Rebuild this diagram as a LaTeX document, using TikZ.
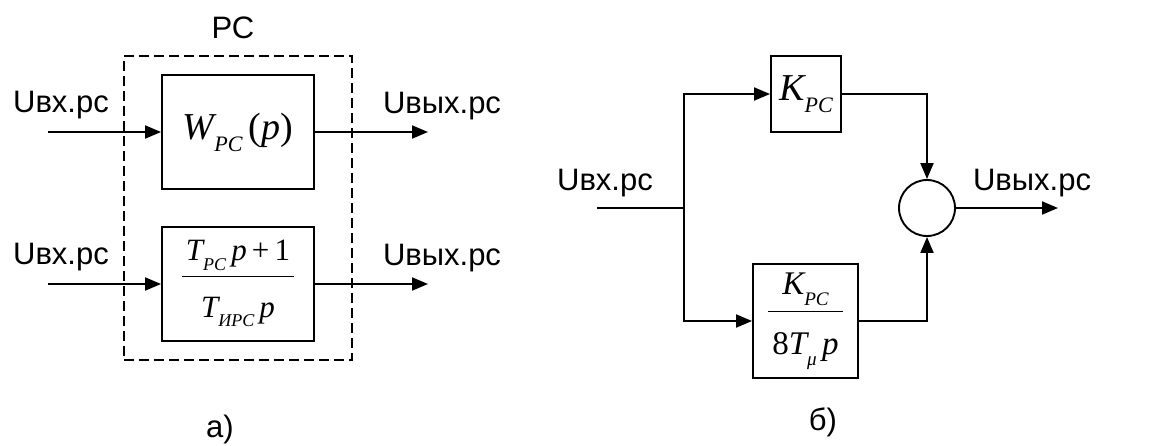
\documentclass[tikz,border=0pt]{standalone}
\usepackage{fontspec}
\setmainfont{Liberation Serif}
\setsansfont{Liberation Sans}
\usetikzlibrary{arrows.meta}
\newcommand\sbs[1]{\raisebox{-0.32em}{\scalebox{0.58}{\itshape #1}}}
\newcommand\mi[1]{{\itshape #1}}
\setlength{\arrayrulewidth}{1.3pt}
\newcommand\frc[2]{{\renewcommand\arraystretch{0}\begin{tabular}{@{\hspace{0.12em}}c@{\hspace{0.12em}}}\rule[-0.5em]{0pt}{0.8em}#1\\\hline\rule{0pt}{1.28em}#2\rule[-0.35em]{0pt}{0pt}\end{tabular}}}
\begin{document}
\begin{tikzpicture}[x=1pt,y=-1pt,
  lbl/.style={font=\sffamily\fontsize{31}{34}\selectfont, inner sep=0},
  blk/.style={draw, line width=1.9pt, inner sep=0},
  ln/.style={line width=1.9pt},
  arr/.style={ln, -{Triangle[length=16pt,width=13pt]}},
]
\useasboundingbox (0,0) rectangle (1151,445);

% ---------- part a ----------
\node[draw, line width=1.9pt, dash pattern=on 10pt off 5pt, minimum width=228pt, minimum height=304pt, inner sep=0] (rc) at (238,208) {};
\node[lbl] (rcl) at (233,28) {РС};
\node[blk, minimum width=152pt, minimum height=114pt] (tb) at (238,132)
  {\fontsize{38}{42}\selectfont \mi{W}\sbs{РС}\,(\mi{p})};
\node[blk, minimum width=152pt, minimum height=114pt] (bb) at (238,284)
  {\fontsize{31}{34}\selectfont \frc{\mi{T}\sbs{РС}\,\mi{p}\,+\,1}{\mi{T}\sbs{ИРС}\,\mi{p}}};
\coordinate (in1) at (48,132);
\coordinate (in2) at (48,284);
\coordinate (out1) at (428,132);
\coordinate (out2) at (428,284);
\draw[arr] (in1) -- (tb.west);
\draw[arr] (in2) -- (bb.west);
\draw[arr] (tb.east) -- (out1);
\draw[arr] (bb.east) -- (out2);
\node[lbl] (li1) at (61,105) {Uвх.рс};
\node[lbl] (li2) at (61,257) {Uвх.рс};
\node[lbl] (lo1) at (442,106) {Uвых.рс};
\node[lbl] (lo2) at (442,258) {Uвых.рс};
\node[lbl] (capa) at (220,429) {а)};

% ---------- part b ----------
\node[blk, minimum width=70pt, minimum height=76pt] (kb) at (806,94)
  {\fontsize{38}{42}\selectfont \mi{K}\sbs{РС}};
\node[blk, minimum width=105pt, minimum height=114pt] (fb) at (805.5,321)
  {\fontsize{33}{36}\selectfont \frc{\mi{K}\sbs{РС}}{8\mi{T}\sbs{μ}\,\mi{p}}};
\node[draw, line width=1.9pt, circle, minimum size=56pt, inner sep=0] (sum) at (927,208) {};
\coordinate (inb) at (597,208);
\coordinate (br) at (684,208);
\coordinate (outb) at (1058,208);
\draw[ln] (inb) -- (br);
\draw[arr] (br) |- (kb.west);
\draw[arr] (br) |- (fb.west);
\draw[arr] (kb.east) -| (sum.north);
\draw[arr] (fb.east) -| (sum.south);
\draw[arr] (sum.east) -- (outb);
\node[lbl] (lib) at (605,183) {Uвх.рс};
\node[lbl] (lob) at (1032,183) {Uвых.рс};
\node[lbl] (capb) at (823,422) {б)};
\end{tikzpicture}
\end{document}
